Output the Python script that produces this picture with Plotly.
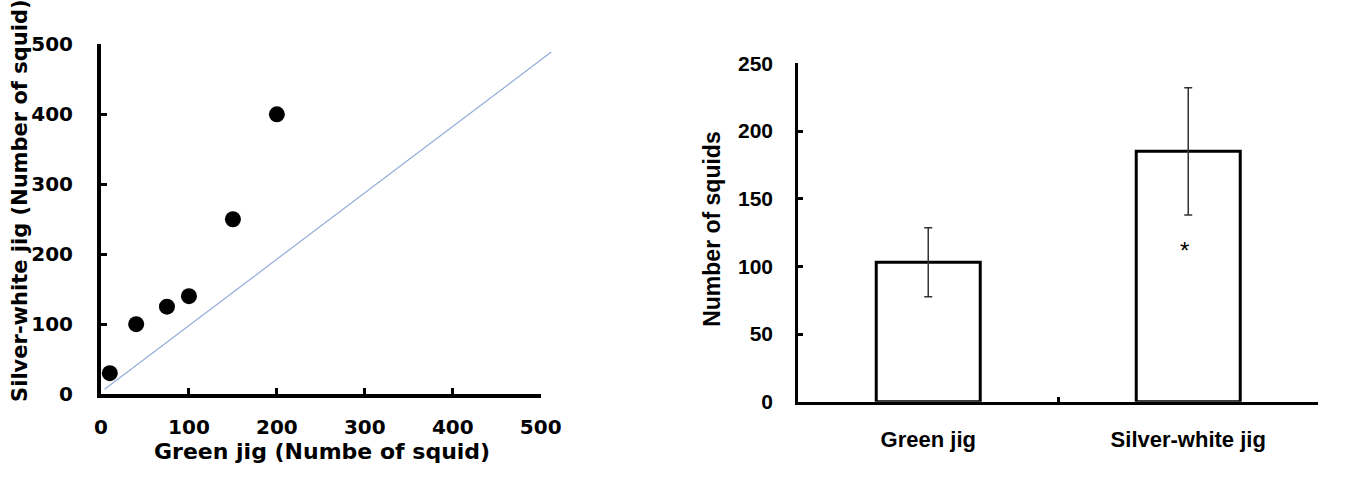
import plotly.graph_objects as go

# ---------------- data ----------------
# Left panel: paired catches
green_jig = [10, 40, 75, 100, 150, 200]
silver_white_jig = [30, 100, 125, 140, 250, 400]
ref_line_x = [4, 512]
ref_line_y = [7, 489]
left_ticks = [0, 100, 200, 300, 400, 500]

# Right panel: mean catches
categories = ["Green jig", "Silver-white jig"]
mean_squids = [103, 185]
err_squids = [25.5, 47]
right_ticks = [0, 50, 100, 150, 200, 250]
sig_category = "Silver-white jig"
sig_label = "*"
sig_label_y = 112

W, H = 1350, 486

def px_x(p):
    return p / W

def px_y(p):
    return 1 - p / H

LEFT_FONT = "DejaVu Sans"
RIGHT_FONT = "Arial"

fig = go.Figure()

# 1:1 reference line (own hidden x axis so it can run slightly past the axis end)
fig.add_trace(go.Scatter(
    x=ref_line_x, y=ref_line_y, mode="lines",
    line=dict(color="#93acd8", width=1.2),
    xaxis="x3", yaxis="y", hoverinfo="skip", showlegend=False))

fig.add_trace(go.Scatter(
    x=green_jig, y=silver_white_jig, mode="markers",
    marker=dict(color="black", size=16, line=dict(width=0)),
    xaxis="x", yaxis="y", cliponaxis=False, showlegend=False))

fig.add_trace(go.Bar(
    x=categories, y=mean_squids, width=0.4,
    marker=dict(color="white", line=dict(color="black", width=3)),
    error_y=dict(type="data", array=err_squids, color="#333333",
                 thickness=1.5, width=4),
    xaxis="x2", yaxis="y2", showlegend=False))

left_x0, left_x1 = 96, 545
left_ext = 565
left_dom_x = [px_x(left_x0), px_x(left_x1)]
left_dom_y = [px_y(402), px_y(34)]
right_dom_x = [px_x(808), px_x(1339)]
right_dom_y = [px_y(410), px_y(54)]

axis_common = dict(showline=True, linecolor="black", showgrid=False,
                   zeroline=False, ticks="inside", tickcolor="black")

fig.update_layout(
    width=W, height=H,
    margin=dict(l=0, r=0, t=0, b=0),
    paper_bgcolor="white", plot_bgcolor="rgba(0,0,0,0)",
    showlegend=False,
    xaxis=dict(domain=left_dom_x, range=[0, 500], tickvals=left_ticks,
               linewidth=4, ticklen=6, tickwidth=3, anchor="y",
               tickfont=dict(family=LEFT_FONT, size=20, color="black", weight="bold"),
               ticklabelstandoff=12, **axis_common),
    yaxis=dict(domain=left_dom_y, range=[0, 500], tickvals=left_ticks,
               linewidth=4, ticklen=6, tickwidth=3, anchor="x",
               tickfont=dict(family=LEFT_FONT, size=20, color="black", weight="bold"),
               ticklabelstandoff=20, **axis_common),
    xaxis3=dict(domain=[px_x(left_x0), px_x(left_ext)],
                range=[0, 500 * (left_ext - left_x0) / (left_x1 - left_x0)],
                visible=False, anchor="y"),
    xaxis2=dict(domain=right_dom_x, type="category", range=[-0.5, 1.5],
                tickson="boundaries", linewidth=3, ticklen=5, tickwidth=3,
                anchor="y2",
                tickfont=dict(family=RIGHT_FONT, size=22, color="black", weight="bold"),
                ticklabelstandoff=16, **axis_common),
    yaxis2=dict(domain=right_dom_y, range=[0, 250], tickvals=right_ticks,
                linewidth=3, ticklen=5, tickwidth=2.5, anchor="x2",
                tickfont=dict(family=RIGHT_FONT, size=21, color="black", weight="bold"),
                ticklabelstandoff=18, **axis_common),
    annotations=[
        dict(text="<b>Green jig (Numbe of squid)</b>", xref="paper", yref="paper",
             x=px_x(322), y=px_y(462), showarrow=False,
             xanchor="center", yanchor="middle",
             font=dict(family=LEFT_FONT, size=22, color="black")),
        dict(text="<b>Silver-white jig (Number of squid)</b>", xref="paper", yref="paper",
             x=px_x(14), y=px_y(198), showarrow=False, textangle=-90,
             xanchor="center", yanchor="middle",
             font=dict(family=LEFT_FONT, size=21, color="black")),
        dict(text="<b>Number of squids</b>", xref="paper", yref="paper",
             x=px_x(720), y=px_y(228), showarrow=False, textangle=-90,
             xanchor="center", yanchor="middle",
             font=dict(family=RIGHT_FONT, size=23, color="black")),
        dict(text=sig_label, xref="x2", yref="y2", x=sig_category, y=sig_label_y,
             xshift=-4, showarrow=False, xanchor="center", yanchor="middle",
             font=dict(family=RIGHT_FONT, size=24, color="black")),
    ],
)

fig.write_html("out.html")
